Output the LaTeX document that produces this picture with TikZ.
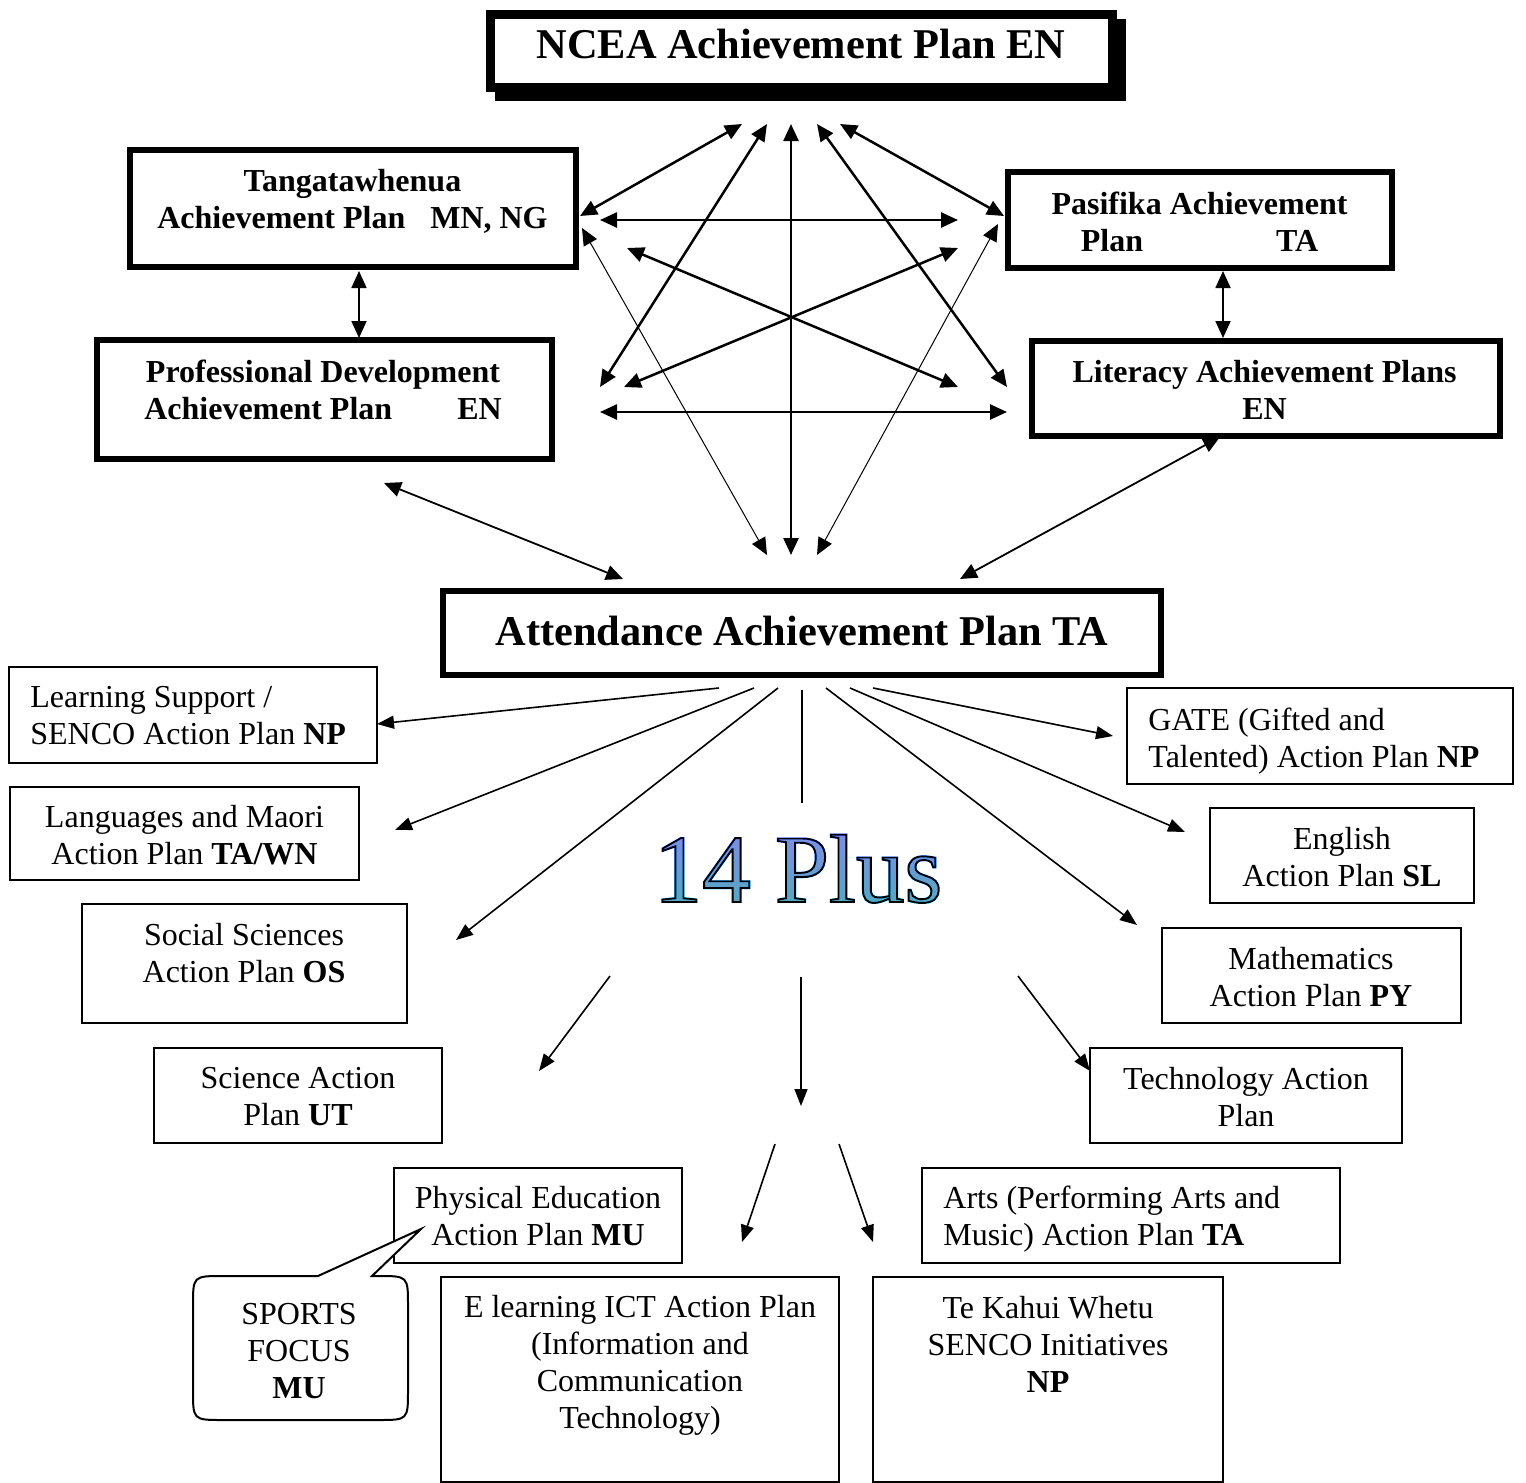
\documentclass[tikz,border=0pt]{standalone}
\usepackage{fontspec}
\setmainfont{Liberation Serif}
\newfontfamily\plusfont{Liberation Serif}[FakeBold=2]
\usetikzlibrary{arrows.meta}
\definecolor{plustop}{rgb}{0.55,0.6,0.95}
\definecolor{plusbot}{rgb}{0.22,0.6,0.65}
\definecolor{plusbase}{rgb}{0.45,0.6,0.75}
\begin{document}
\begin{tikzpicture}[x=0.5pt,y=-0.5pt,
  heavybox/.style={draw, line width=3pt, inner sep=0pt},
  lightbox/.style={draw, line width=1pt, inner sep=0pt},
  boldtext/.style={font=\fontsize{16}{18.5}\selectfont\bfseries, align=center, inner sep=0pt, execute at begin node=\strut, execute at end node=\strut},
  plaintext/.style={font=\fontsize{16}{18.5}\selectfont, align=center, inner sep=0pt, execute at begin node=\strut, execute at end node=\strut},
  titletext/.style={font=\fontsize{21.2}{25}\selectfont\bfseries, inner sep=0pt},
  plustext/.style={font=\plusfont\fontsize{48.5}{55}\selectfont, anchor=base, inner sep=0pt},
  link/.style={line width=1.25pt, >={Triangle[length=8.5pt,width=7.5pt]}, <->},
  thinlink/.style={line width=0.5pt, >={Triangle[length=8.5pt,width=7.5pt]}, <->},
  branch/.style={line width=0.8pt, >={Triangle[length=8.5pt,width=6.5pt]}, ->},
]
\fill[white] (0,0) rectangle (1526,1483);
\useasboundingbox (0,0) rectangle (1526,1483);

% ---------- title box with shadow ----------
\fill[black] (495,19) rectangle (1126,101);
\node[draw, fill=white, line width=4.5pt, inner sep=0pt, minimum width=311pt, minimum height=36.5pt] (ncea) at (801.5,51) {};
\node[titletext] (nceatext) at (801,44) {NCEA Achievement Plan EN};

% ---------- heavy boxes ----------
\node[heavybox, minimum width=222.75pt, minimum height=58.75pt] (tang) at (352.75,208.25) {};
\node[boldtext] (tangtext) at (352.5,204) {Tangatawhenua\\Achievement Plan\hspace{12.5pt}MN, NG};

\node[heavybox, minimum width=227.25pt, minimum height=59.75pt] (prof) at (324.25,399.25) {};
\node[boldtext] (proftext) at (323,395.6) {Professional Development\\Achievement Plan\hspace{32.5pt}EN};

\node[heavybox, minimum width=192pt, minimum height=47.75pt] (pasi) at (1199.5,219.75) {};
\node[boldtext] (pasitext) at (1199.5,227.6) {Pasifika Achievement\\Plan\hspace{66.5pt}TA};

\node[heavybox, minimum width=234pt, minimum height=47.5pt] (lit) at (1265.5,388) {};
\node[boldtext] (littext) at (1264.5,395.6) {Literacy Achievement Plans\\EN};

\node[heavybox, minimum width=359pt, minimum height=42pt] (att) at (802,633) {};
\node[titletext] (atttext) at (802,631) {Attendance Achievement Plan TA};

% ---------- light boxes ----------
\node[lightbox, minimum width=184pt, minimum height=48pt] (ls) at (193,715) {};
\node[plaintext, align=left, anchor=west] (lstext) at (30,721) {Learning Support /\\SENCO Action Plan \textbf{NP}};

\node[lightbox, minimum width=174.5pt, minimum height=46.5pt] (lang) at (184.5,833.5) {};
\node[plaintext] (langtext) at (184.5,840.5) {Languages and Maori\\Action Plan \textbf{TA/WN}};

\node[lightbox, minimum width=162.5pt, minimum height=59.5pt] (soc) at (244.5,963.5) {};
\node[plaintext] (soctext) at (244,958) {Social Sciences\\Action Plan \textbf{OS}};

\node[lightbox, minimum width=144pt, minimum height=47.5pt] (sci) at (298,1095.5) {};
\node[plaintext] (scitext) at (298,1102) {Science Action\\Plan \textbf{UT}};

\node[lightbox, minimum width=144pt, minimum height=47.5pt] (pe) at (538,1215.5) {};
\node[plaintext] (petext) at (538,1221.5) {Physical Education\\Action Plan \textbf{MU}};

\node[lightbox, minimum width=199pt, minimum height=102.5pt] (el) at (640,1379.5) {};
\node[plaintext] (eltext) at (640,1367.5) {E learning ICT Action Plan\\(Information and\\Communication\\Technology)};

\node[lightbox, minimum width=175pt, minimum height=102.5pt] (tk) at (1048,1379.5) {};
\node[plaintext] (tktext) at (1048,1350) {Te Kahui Whetu\\SENCO Initiatives\\\textbf{NP}};

\node[lightbox, minimum width=209pt, minimum height=47.5pt] (arts) at (1131,1215.5) {};
\node[plaintext, align=left, anchor=west] (artstext) at (943,1221.5) {Arts (Performing Arts and\\Music) Action Plan \textbf{TA}};

\node[lightbox, minimum width=156pt, minimum height=47.5pt] (tech) at (1246,1095.5) {};
\node[plaintext] (techtext) at (1246,1102) {Technology Action\\Plan};

\node[lightbox, minimum width=149.5pt, minimum height=47.5pt] (math) at (1311.5,975.5) {};
\node[plaintext] (mathtext) at (1311,982) {Mathematics\\Action Plan \textbf{PY}};

\node[lightbox, minimum width=132pt, minimum height=47.5pt] (eng) at (1342,855.5) {};
\node[plaintext] (engtext) at (1342,862) {English\\Action Plan \textbf{SL}};

\node[lightbox, minimum width=193pt, minimum height=48pt] (gate) at (1320,736) {};
\node[plaintext, align=left, anchor=west] (gatetext) at (1148,743) {GATE (Gifted and\\Talented) Action Plan \textbf{NP}};

% ---------- callout ----------
\coordinate (sportstip) at (421,1229);
\draw[line width=1pt, fill=white] (318,1276) -- (sportstip) -- (372,1276) -- (378,1276)
  .. controls (408,1276) .. (408,1306) -- (408,1390)
  .. controls (408,1420) .. (378,1420) -- (223,1420)
  .. controls (193,1420) .. (193,1390) -- (193,1306)
  .. controls (193,1276) .. (223,1276) -- cycle;
\node[plaintext] (sports) at (299,1356) {SPORTS\\FOCUS\\\textbf{MU}};

% ---------- 14 Plus ----------
\node[plustext, text=plusbase] (plus) at (798,902) {\pgfsetstrokecolor{black}14 Plus};
\fill[blend mode=color, top color=plustop, bottom color=plusbot] (650,830) rectangle (955,918);

% ---------- connector end points ----------
\coordinate (a1s) at (742,124);  \coordinate (a1e) at (580,216);
\coordinate (a2s) at (767,124);  \coordinate (a2e) at (600,387);
\coordinate (a3s) at (791,124);  \coordinate (a3e) at (791,555);
\coordinate (a4s) at (817,124);  \coordinate (a4e) at (1007,387);
\coordinate (a5s) at (840,124);  \coordinate (a5e) at (1004,216);
\coordinate (a6s) at (600,220);  \coordinate (a6e) at (958,220);
\coordinate (a7s) at (627,248);  \coordinate (a7e) at (958,387);
\coordinate (a8s) at (958,248);  \coordinate (a8e) at (624,387);
\coordinate (a9s) at (600,412);  \coordinate (a9e) at (1007,412);
\coordinate (a10s) at (582,228); \coordinate (a10e) at (767,555);
\coordinate (a11s) at (998,224); \coordinate (a11e) at (817,555);
\coordinate (a12s) at (359,271); \coordinate (a12e) at (359,338);
\coordinate (a13s) at (1223,271); \coordinate (a13e) at (1223,338);
\coordinate (a14s) at (384,483); \coordinate (a14e) at (623,579);
\coordinate (a15s) at (1220,437); \coordinate (a15e) at (960,579);

\coordinate (b1s) at (719,688); \coordinate (b1e) at (377,724);
\coordinate (b2s) at (754,688); \coordinate (b2e) at (395,830);
\coordinate (b3s) at (778,688); \coordinate (b3e) at (456,940);
\coordinate (b4s) at (802,690); \coordinate (b4e) at (802,803);
\coordinate (b5s) at (826,688); \coordinate (b5e) at (1137,925);
\coordinate (b6s) at (850,688); \coordinate (b6e) at (1185,832);
\coordinate (b7s) at (873,688); \coordinate (b7e) at (1113,736);

\coordinate (c1s) at (610,976);  \coordinate (c1e) at (539,1071);
\coordinate (c2s) at (801,977);  \coordinate (c2e) at (801,1106);
\coordinate (c3s) at (1018,976); \coordinate (c3e) at (1090,1071);
\coordinate (c4s) at (775,1144); \coordinate (c4e) at (742,1242);
\coordinate (c5s) at (839,1144); \coordinate (c5e) at (873,1242);

% ---------- connectors ----------
\foreach \k in {1,...,9} {\draw[link] (a\k s) -- (a\k e);}
\draw[thinlink] (a10s) -- (a10e);
\draw[thinlink] (a11s) -- (a11e);
\draw[link, line width=0.9pt] (a12s) -- (a12e);
\draw[link, line width=0.9pt] (a13s) -- (a13e);
\draw[link, line width=0.9pt] (a14s) -- (a14e);
\draw[link, line width=0.9pt] (a15s) -- (a15e);

\foreach \k in {1,2,3,5,6,7} {\draw[branch] (b\k s) -- (b\k e);}
\draw[line width=0.8pt] (b4s) -- (b4e);
\foreach \k in {1,...,5} {\draw[branch] (c\k s) -- (c\k e);}
\end{tikzpicture}
\end{document}
